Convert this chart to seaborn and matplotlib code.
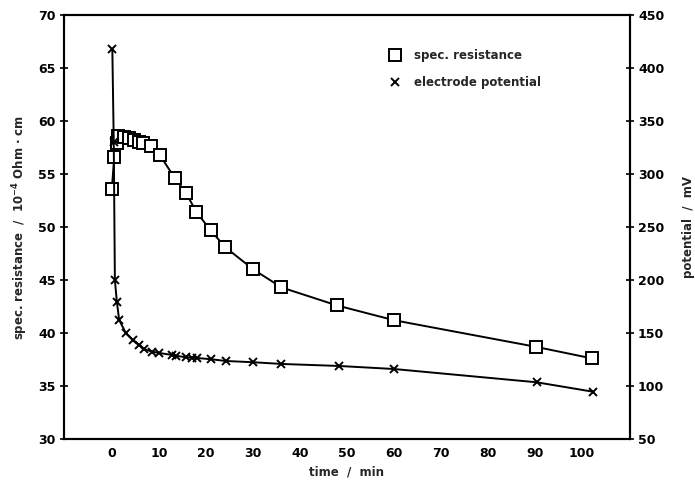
import matplotlib
matplotlib.use("Agg")
import matplotlib.pyplot as plt
import seaborn as sns
import pandas as pd
from matplotlib.lines import Line2D

# spec. resistance (10^-4 Ohm cm) vs time (min)
res_time = [0, 0.5, 1.0, 1.4, 2.6, 3.7, 4.7, 5.8, 6.7, 8.4, 10.2, 13.4, 15.8, 18.0, 21.0, 24.1, 30.1, 36.1, 47.9, 60.1, 90.2, 102.2]
res_vals = [53.6, 56.6, 57.9, 58.6, 58.5, 58.4, 58.2, 58.05, 57.95, 57.6, 56.8, 54.6, 53.2, 51.4, 49.7, 48.1, 46.0, 44.3, 42.6, 41.2, 38.7, 37.6]

# electrode potential (mV) vs time (min)
pot_time = [0.1, 0.4, 0.64, 1.06, 1.55, 3.0, 4.4, 5.8, 6.9, 8.6, 10.0, 12.9, 13.6, 15.7, 17.1, 18.2, 21.2, 24.2, 30.1, 36.1, 48.3, 60.1, 90.4, 102.4]
pot_vals = [418, 330, 200, 179.5, 162.3, 149.7, 143.4, 138.7, 134.6, 132.4, 131.2, 129.2, 128.6, 127.1, 126.7, 126.4, 125.2, 123.6, 122.4, 120.8, 118.9, 116.0, 103.5, 94.6]

x_ticks = list(range(0, 101, 10))
left_ticks = list(range(30, 71, 5))
right_ticks = list(range(50, 451, 50))

sns.set_theme(style="white")
plt.rcParams['font.family'] = ['DejaVu Sans']
plt.rcParams['font.weight'] = 'bold'

fig = plt.figure(figsize=(6.95, 4.84), dpi=100)
ax = fig.add_axes([0.092, 0.093, 0.814, 0.876])
ax2 = ax.twinx()

df_r = pd.DataFrame({"t": res_time, "v": res_vals})
df_p = pd.DataFrame({"t": pot_time, "v": pot_vals})

sns.lineplot(data=df_r, x="t", y="v", ax=ax, color="black", lw=1.4, marker="s",
             markersize=8.5, markerfacecolor="white", markeredgecolor="black",
             markeredgewidth=1.4, zorder=3)
sns.lineplot(data=df_p, x="t", y="v", ax=ax2, color="black", lw=1.4, marker="x",
             markersize=6, markeredgecolor="black", markeredgewidth=1.4, zorder=3)

ax.set_xlim(-10.2, 110.2)
ax.set_ylim(30, 70)
ax2.set_ylim(50, 450)
ax.set_xticks(x_ticks)
ax.set_yticks(left_ticks)
ax2.set_yticks(right_ticks)

for a in (ax, ax2):
    for s in a.spines.values():
        s.set_color("black")
        s.set_linewidth(1.5)
    a.tick_params(direction="inout", length=6, width=1.2, colors="black",
                  labelsize=9, pad=3)

ax.set_xlabel("time  /  min", fontsize=8.5, fontweight="bold", labelpad=4)
ax.set_ylabel("spec. resistance  /  10$^{-4}$ Ohm · cm", fontsize=8.5, fontweight="bold", labelpad=6)
ax2.set_ylabel("potential  /  mV", fontsize=8.5, fontweight="bold", labelpad=13, rotation=90)

handles = [
    Line2D([], [], ls="none", marker="s", markersize=8, markerfacecolor="white",
           markeredgecolor="black", markeredgewidth=1.4),
    Line2D([], [], ls="none", marker="x", markersize=6, markeredgecolor="black",
           markeredgewidth=1.4),
]
ax.legend(handles, ["spec. resistance", "electrode potential"], loc="upper left",
          bbox_to_anchor=(0.545, 0.945), frameon=False, fontsize=8.5,
          handletextpad=0.6, labelspacing=1.2)

fig.savefig("out.png", dpi=100)
